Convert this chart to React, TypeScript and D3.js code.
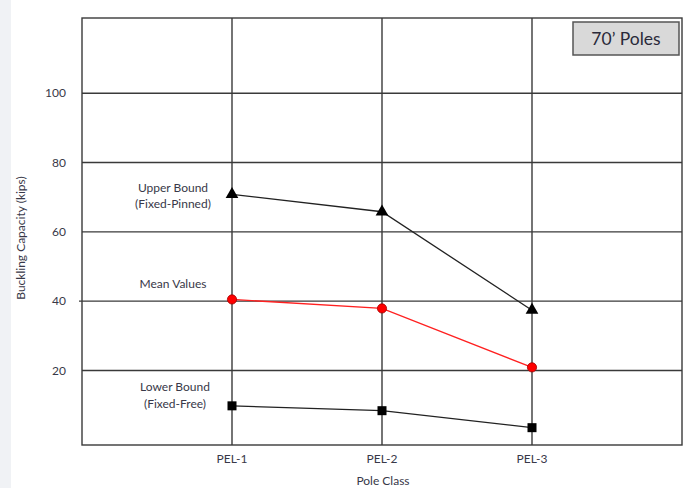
import React from "react";
import * as d3 from "d3";

const categories = ["PEL-1", "PEL-2", "PEL-3"];
const upperBound = [70.8, 65.8, 37.4];
const meanValues = [40.5, 37.9, 20.9];
const lowerBound = [9.8, 8.4, 3.5];
const yTicks = [20, 40, 60, 80, 100];

const W = 700;
const H = 488;
const left = 82;
const right = 682;
const top = 18;
const bottom = 445;

export default function App() {
  const x = d3.scaleLinear().domain([0, categories.length + 1]).range([left, right]);
  const y = d3.scaleLinear().domain([-1.5, 121.7]).range([bottom, top]);
  const line = d3
    .line<number>()
    .x((_, i) => x(i + 1))
    .y((d) => y(d));
  const gridColor = "#3a3a3a";
  const font = "Lato, 'Open Sans', sans-serif";
  const textColor = "#383848";
  const tri = d3.symbol().type(d3.symbolTriangle).size(70)() as string;

  return (
    <svg
      width={W}
      height={H}
      style={{ position: "absolute", left: 0, top: 0, background: "#fff" }}
    >
      <rect x={0} y={0} width={11} height={H} fill="#f0f2f5" />
      {/* horizontal gridlines */}
      {yTicks.map((t) => (
        <g key={t}>
          <line
            x1={t === 40 ? left - 3 : left}
            x2={right}
            y1={y(t)}
            y2={y(t)}
            stroke={gridColor}
            strokeWidth={1.4}
          />
          <text
            x={66}
            y={y(t)}
            dy="0.35em"
            textAnchor="end"
            fontFamily={font}
            fontSize={12}
            fill={textColor}
          >
            {t}
          </text>
        </g>
      ))}
      {/* vertical gridlines */}
      {categories.map((c, i) => (
        <g key={c}>
          <line
            x1={x(i + 1)}
            x2={x(i + 1)}
            y1={top}
            y2={bottom}
            stroke={gridColor}
            strokeWidth={1.4}
          />
          <text
            x={x(i + 1)}
            y={463}
            textAnchor="middle"
            fontFamily={font}
            fontSize={12}
            fill={textColor}
          >
            {c}
          </text>
        </g>
      ))}
      <rect
        x={left}
        y={top}
        width={right - left}
        height={bottom - top}
        fill="none"
        stroke={gridColor}
        strokeWidth={1.4}
      />
      {/* series lines */}
      <path d={line(upperBound) as string} fill="none" stroke="#222" strokeWidth={1.3} />
      <path d={line(meanValues) as string} fill="none" stroke="#ff2020" strokeWidth={1.3} />
      <path d={line(lowerBound) as string} fill="none" stroke="#222" strokeWidth={1.3} />
      {/* markers */}
      {upperBound.map((v, i) => (
        <path key={"u" + i} d={tri} transform={`translate(${x(i + 1)},${y(v)})`} fill="#000" />
      ))}
      {meanValues.map((v, i) => (
        <circle key={"m" + i} cx={x(i + 1)} cy={y(v)} r={4.6} fill="#ff0000" stroke="#a00000" strokeWidth={0.8} />
      ))}
      {lowerBound.map((v, i) => (
        <rect key={"l" + i} x={x(i + 1) - 4.5} y={y(v) - 4.5} width={9} height={9} fill="#000" />
      ))}
      {/* annotations */}
      <g fontFamily={font} fontSize={12} fill={textColor} textAnchor="middle">
        <text x={173} y={192}>Upper Bound</text>
        <text x={173} y={208}>(Fixed-Pinned)</text>
        <text x={173} y={288}>Mean Values</text>
        <text x={175} y={391}>Lower Bound</text>
        <text x={175} y={408}>(Fixed-Free)</text>
      </g>
      {/* title box */}
      <rect x={573} y={22} width={106} height={33} fill="#d9d9d9" stroke="#555" strokeWidth={1.5} />
      <text
        x={626}
        y={45}
        textAnchor="middle"
        fontFamily={font}
        fontSize={17.5}
        fill="#2a2a3a"
      >
        70’ Poles
      </text>
      {/* axis titles */}
      <text
        x={383}
        y={485}
        textAnchor="middle"
        fontFamily={font}
        fontSize={12}
        fill={textColor}
      >
        Pole Class
      </text>
      <text
        transform={`translate(25,${238}) rotate(-90)`}
        textAnchor="middle"
        fontFamily={font}
        fontSize={12}
        fill={textColor}
      >
        Buckling Capacity (kips)
      </text>
    </svg>
  );
}
